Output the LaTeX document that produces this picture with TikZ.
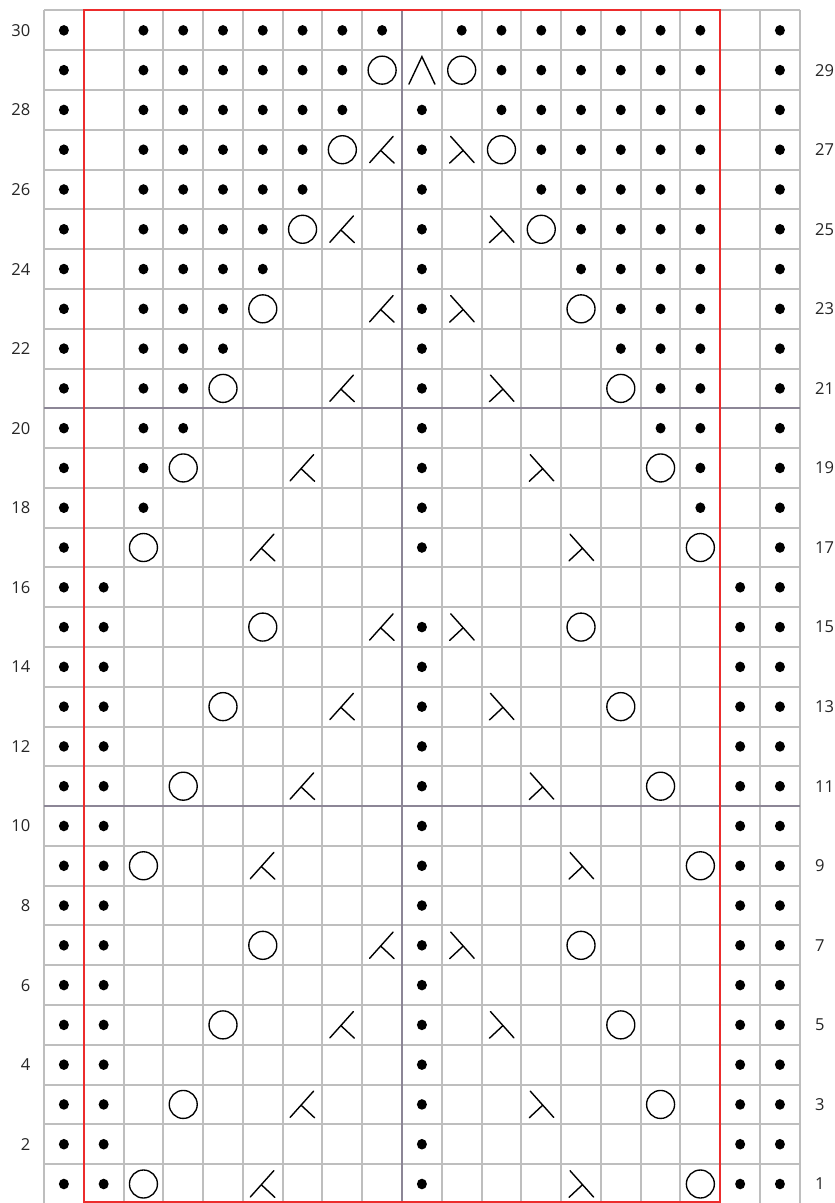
\documentclass[tikz,border=0pt]{standalone}
\usepackage{fontspec}
\setmainfont{Open Sans}
\definecolor{gridgray}{RGB}{190,190,190}
\definecolor{darkline}{RGB}{140,134,150}
\definecolor{repeatred}{RGB}{236,44,44}
\tikzset{
  gridline/.style={draw=gridgray, line width=2pt},
  majorline/.style={draw=darkline, line width=2pt},
  repeatbox/.style={draw=repeatred, line width=2pt},
  purldot/.style={fill=black},
  yarnover/.style={draw=black, line width=1.35pt},
  decline/.style={draw=black, line width=1.4pt, line cap=round},
  rowlabel/.style={inner sep=0pt, font=\fontsize{16.5}{18}\selectfont, text=black!85}
}
\newcommand\drawsymn[2]{}
\newcommand\drawsymp[2]{\fill[purldot] (#1-0.5,#2-0.5) circle[x radius=5pt, y radius=5.3pt];}
\newcommand\drawsymo[2]{\draw[yarnover] (#1-0.5,#2-0.5) circle[radius=14pt];}
\newcommand\drawsymk[2]{\draw[decline, shift={(#1-0.5,#2-0.5)}] (-12.5pt,-13pt) -- (11pt,13.3pt) (-1.5pt,-0.7pt) -- (12pt,-13.3pt);}
\newcommand\drawsyms[2]{\draw[decline, shift={(#1-0.5,#2-0.5)}] (12.5pt,-13pt) -- (-11pt,13.3pt) (1.5pt,-0.7pt) -- (-12pt,-13.3pt);}
\newcommand\drawsyma[2]{\draw[decline, shift={(#1-0.5,#2-0.5)}] (-13pt,-14pt) -- (0pt,13.5pt) -- (13pt,-14pt);}
\begin{document}
\begin{tikzpicture}[x=1pt,y=1pt]
\useasboundingbox[fill=white] (0,0) rectangle (835,1203);
\begin{scope}[shift={(44,-0.9)}, x=39.78pt, y=39.78pt]
  \draw[gridline, step=1] (0,0) grid (19,30);
  \draw[majorline] (9,0) -- (9,30) (0,10) -- (19,10) (0,20) -- (19,20);
  \draw[repeatbox] (1,0.045) rectangle (17,30);
  \foreach \r/\row in {
    30/{p,n,p,p,p,p,p,p,p,n,p,p,p,p,p,p,p,n,p},
    29/{p,n,p,p,p,p,p,p,o,a,o,p,p,p,p,p,p,n,p},
    28/{p,n,p,p,p,p,p,p,n,p,n,p,p,p,p,p,p,n,p},
    27/{p,n,p,p,p,p,p,o,k,p,s,o,p,p,p,p,p,n,p},
    26/{p,n,p,p,p,p,p,n,n,p,n,n,p,p,p,p,p,n,p},
    25/{p,n,p,p,p,p,o,k,n,p,n,s,o,p,p,p,p,n,p},
    24/{p,n,p,p,p,p,n,n,n,p,n,n,n,p,p,p,p,n,p},
    23/{p,n,p,p,p,o,n,n,k,p,s,n,n,o,p,p,p,n,p},
    22/{p,n,p,p,p,n,n,n,n,p,n,n,n,n,p,p,p,n,p},
    21/{p,n,p,p,o,n,n,k,n,p,n,s,n,n,o,p,p,n,p},
    20/{p,n,p,p,n,n,n,n,n,p,n,n,n,n,n,p,p,n,p},
    19/{p,n,p,o,n,n,k,n,n,p,n,n,s,n,n,o,p,n,p},
    18/{p,n,p,n,n,n,n,n,n,p,n,n,n,n,n,n,p,n,p},
    17/{p,n,o,n,n,k,n,n,n,p,n,n,n,s,n,n,o,n,p},
    16/{p,p,n,n,n,n,n,n,n,n,n,n,n,n,n,n,n,p,p},
    15/{p,p,n,n,n,o,n,n,k,p,s,n,n,o,n,n,n,p,p},
    14/{p,p,n,n,n,n,n,n,n,p,n,n,n,n,n,n,n,p,p},
    13/{p,p,n,n,o,n,n,k,n,p,n,s,n,n,o,n,n,p,p},
    12/{p,p,n,n,n,n,n,n,n,p,n,n,n,n,n,n,n,p,p},
    11/{p,p,n,o,n,n,k,n,n,p,n,n,s,n,n,o,n,p,p},
    10/{p,p,n,n,n,n,n,n,n,p,n,n,n,n,n,n,n,p,p},
    9/{p,p,o,n,n,k,n,n,n,p,n,n,n,s,n,n,o,p,p},
    8/{p,p,n,n,n,n,n,n,n,p,n,n,n,n,n,n,n,p,p},
    7/{p,p,n,n,n,o,n,n,k,p,s,n,n,o,n,n,n,p,p},
    6/{p,p,n,n,n,n,n,n,n,p,n,n,n,n,n,n,n,p,p},
    5/{p,p,n,n,o,n,n,k,n,p,n,s,n,n,o,n,n,p,p},
    4/{p,p,n,n,n,n,n,n,n,p,n,n,n,n,n,n,n,p,p},
    3/{p,p,n,o,n,n,k,n,n,p,n,n,s,n,n,o,n,p,p},
    2/{p,p,n,n,n,n,n,n,n,p,n,n,n,n,n,n,n,p,p},
    1/{p,p,o,n,n,k,n,n,n,p,n,n,n,s,n,n,o,p,p}}{
    \foreach \s [count=\c] in \row {\csname drawsym\s\endcsname{\c}{\r}}
  }
  \foreach \r in {2,4,...,30}{
    \node[rowlabel, anchor=east] (lab\r) at (-0.34,\r-0.5) {\r};
  }
  \foreach \r in {1,3,...,29}{
    \node[rowlabel, anchor=west] (lab\r) at (19.38,\r-0.5) {\r};
  }
\end{scope}
\end{tikzpicture}
\end{document}
